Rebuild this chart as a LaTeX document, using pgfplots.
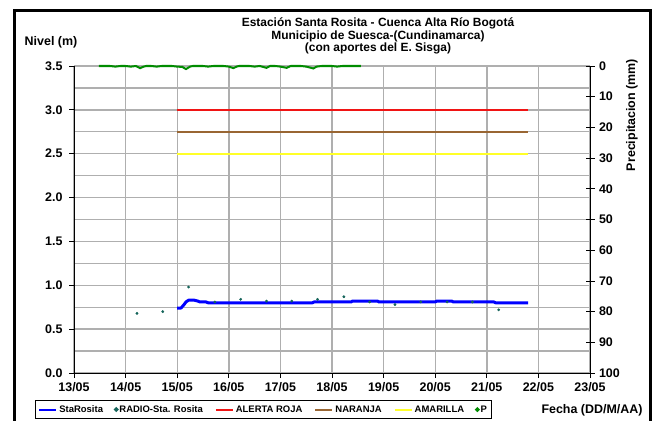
\documentclass[border=0pt]{standalone}
\usepackage{fontspec}
\setmainfont{Liberation Sans}
\usepackage{pgfplots}
\pgfplotsset{compat=1.18}
\definecolor{gridgray}{RGB}{175,175,175}
\definecolor{naranja}{RGB}{153,102,51}
\definecolor{amarilla}{RGB}{255,255,40}
\definecolor{radio}{RGB}{20,100,90}
\definecolor{pgreen}{RGB}{0,140,0}
\definecolor{rojo}{RGB}{240,20,20}
\begin{document}
\begin{tikzpicture}
\useasboundingbox (0bp,0bp) rectangle (660bp,421bp);
\draw[line width=3bp] (14bp,-2bp) -- (14bp,410bp) -- (650bp,410bp) -- (650bp,-2bp);
\node[font=\bfseries\fontsize{12}{12.8}\selectfont, align=center] at (378bp,385bp)
  {Estación Santa Rosita - Cuenca Alta Río Bogotá\\Municipio de Suesca-(Cundinamarca)\\(con aportes del  E. Sisga)};
\node[font=\bfseries\fontsize{12.5}{13}\selectfont] at (51bp,379bp) {Nivel (m)};
\node[font=\bfseries\fontsize{12.5}{13}\selectfont, rotate=90] at (632bp,306bp) {Precipitacion (mm)};
\node[font=\bfseries\fontsize{12.5}{13}\selectfont] at (592bp,11bp) {Fecha (DD/M/AA)};
% grid only
\begin{axis}[
  at={(74bp,48bp)}, anchor=south west,
  scale only axis, width=516bp, height=307bp,
  xmin=13, xmax=23, ymin=0, ymax=3.5,
  xtick={13,...,23}, ytick={0,0.5,...,3.5}, minor ytick={0.25,0.75,...,3.25},
  xticklabels={}, yticklabels={},
  xmajorgrids, ymajorgrids, yminorgrids,
  grid style={gridgray, line width=1.4bp},
  minor grid style={gridgray, line width=1.4bp},
  major tick length=0pt, minor tick length=0pt,
  axis line style={draw=none},
]
\end{axis}
\begin{axis}[
  at={(74bp,48bp)}, anchor=south west,
  scale only axis, width=516bp, height=307bp,
  xmin=13, xmax=23, ymin=0, ymax=3.5,
  axis x line*=bottom, axis y line*=left,
  xtick={13,...,23},
  xticklabels={13/05,14/05,15/05,16/05,17/05,18/05,19/05,20/05,21/05,22/05,23/05},
  ytick={0,0.5,...,3.5},
  tick align=outside, major tick length=5bp,
  tick style={black, line width=0.8bp},
  axis line style={black, line width=1bp},
  ticklabel style={font=\bfseries\fontsize{12.5}{13}\selectfont},
  yticklabel style={xshift=-3bp},
  xticklabel style={yshift=-1bp},
  /pgf/number format/.cd, fixed, fixed zerofill, precision=1, assume math mode=true,
  /pgfplots/.cd,
  legend columns=6,
  legend cell align=left,
  legend image post style={line width=2bp},
  legend style={at={(-0.0756,-0.088)}, anchor=north west, draw=black, line width=0.8bp,
    font=\bfseries\fontsize{9.5}{10}\selectfont, inner xsep=3bp, inner ysep=3bp,
    /tikz/every even column/.append style={column sep=10bp}},
]
\addplot[blue, line width=3bp, line join=round] coordinates {
(15.00,0.74)(15.07,0.74)(15.12,0.77)(15.17,0.81)(15.22,0.83)(15.33,0.83)(15.40,0.82)(15.44,0.81)
(15.56,0.81)(15.60,0.80)(17.62,0.80)(17.65,0.81)(18.37,0.81)(18.40,0.82)(18.88,0.82)(18.91,0.81)
(20.00,0.81)(20.03,0.82)(20.32,0.82)(20.35,0.81)(21.14,0.81)(21.17,0.80)(21.80,0.80)};
\addlegendentry{StaRosita}
\addplot[only marks, mark=*, mark size=1.2bp, radio] coordinates {
(14.22,0.68)(14.72,0.70)(15.22,0.98)(15.73,0.81)(16.23,0.84)(16.73,0.82)(17.22,0.82)(17.72,0.84)
(18.23,0.87)(18.73,0.81)(19.22,0.78)(19.72,0.81)(20.23,0.81)(20.72,0.81)(21.23,0.72)};
\addlegendentry{RADIO-Sta. Rosita}
\addplot[rojo, line width=1.6bp] coordinates {(15,3.0)(21.8,3.0)};
\addlegendentry{ALERTA ROJA}
\addplot[naranja, line width=1.6bp] coordinates {(15,2.75)(21.8,2.75)};
\addlegendentry{NARANJA}
\addplot[amarilla, line width=1.8bp] coordinates {(15,2.5)(21.8,2.5)};
\addlegendentry{AMARILLA}
\addlegendimage{only marks, mark=*, mark size=1.2bp, pgreen}
\addlegendentry{P}
\end{axis}
\begin{axis}[
  at={(74bp,48bp)}, anchor=south west,
  scale only axis, width=516bp, height=307bp,
  xmin=13, xmax=23, ymin=0, ymax=100, y dir=reverse,
  axis x line=none, axis y line*=right,
  ytick={0,10,...,100},
  tick align=center, major tick length=9bp,
  tick style={black, line width=0.8bp},
  axis line style={black, line width=1bp},
  ticklabel style={font=\bfseries\fontsize{12.5}{13}\selectfont},
  yticklabel style={xshift=1bp},
  /pgf/number format/assume math mode=true,
  clip=false,
]
\addplot[pgreen, line width=2bp] coordinates {
(13.48,0)(13.6,0)(13.7,0)(13.8,0.2)(13.9,0)(14.0,0)(14.1,0.2)(14.2,0)(14.28,0.7)(14.35,0.2)
(14.4,0)(14.5,0)(14.6,0.2)(14.7,0)(14.8,0)(14.9,0)(15.0,0.2)(15.1,0.3)(15.17,1.0)(15.25,0.2)
(15.3,0)(15.4,0)(15.5,0)(15.6,0.2)(15.7,0)(15.8,0)(15.9,0)(16.0,0.2)(16.09,0.7)(16.15,0.2)
(16.2,0)(16.3,0)(16.4,0)(16.5,0.2)(16.6,0)(16.73,0.6)(16.8,0)(16.9,0)(17.0,0.2)(17.12,0.6)
(17.2,0)(17.3,0)(17.4,0)(17.5,0.2)(17.64,0.8)(17.7,0.2)(17.8,0)(17.9,0)(18.0,0)(18.1,0.2)
(18.2,0)(18.3,0)(18.4,0)(18.5,0)(18.56,0)};
\end{axis}
\end{tikzpicture}
\end{document}
